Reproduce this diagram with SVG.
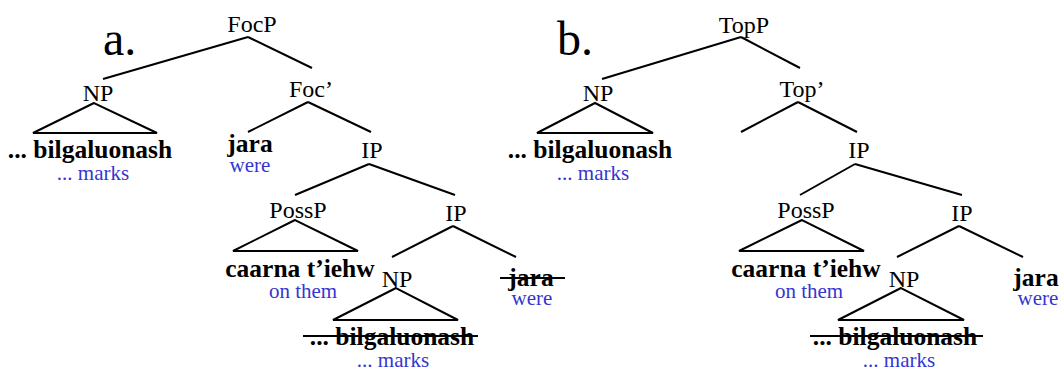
<svg xmlns="http://www.w3.org/2000/svg" width="1060" height="369" viewBox="0 0 1060 369">
<style>
text{font-family:"Liberation Serif","Times New Roman",serif;text-anchor:middle;fill:#000}
.lbl{font-size:48px;text-anchor:start}
.cat{font-size:24px}
.w{font-size:25.5px;font-weight:bold}
.g{font-size:21px;fill:#3535d0}
.e line,.e polygon{stroke:#000;stroke-width:2;fill:none}
.s{stroke:#000;stroke-width:2}
</style>
<rect width="1060" height="369" fill="#fff"/>
<g id="edges" class="e">
<line x1="248" y1="37" x2="103" y2="79"/><line x1="248" y1="37" x2="312" y2="68"/>
<polygon points="94,103 33,133 157,133"/>
<line x1="308" y1="102" x2="248" y2="132"/><line x1="308" y1="102" x2="371" y2="132"/>
<line x1="369" y1="164" x2="295" y2="195"/><line x1="369" y1="164" x2="455" y2="195"/>
<polygon points="295,220 233,251 358,251"/>
<line x1="453" y1="226" x2="392" y2="257"/><line x1="453" y1="226" x2="516" y2="257"/>
<polygon points="396,288 333,320 458,320"/>
<line x1="741" y1="37" x2="602" y2="79"/><line x1="741" y1="37" x2="800" y2="68"/>
<polygon points="595,103 537,133 653,133"/>
<line x1="798" y1="102" x2="741" y2="132"/><line x1="798" y1="102" x2="857" y2="132"/>
<line x1="855" y1="164" x2="800" y2="195"/><line x1="855" y1="164" x2="962" y2="195"/>
<polygon points="802,220 739,251 864,251"/>
<line x1="959" y1="226" x2="897" y2="257"/><line x1="959" y1="226" x2="1023" y2="257"/>
<polygon points="901,288 838,320 964,320"/>
</g>
<g id="tree-a">
<text class="lbl" x="103" y="55">a.</text>
<g id="a-focp"><text class="cat" x="252" y="32">FocP</text></g>
<g id="a-np1"><text class="cat" x="98" y="101">NP</text><text class="w" x="90" y="158">... bilgaluonash</text><text class="g" x="93" y="180">... marks</text></g>
<g id="a-focbar"><text class="cat" x="311" y="97">Foc’</text></g>
<g id="a-jara"><text class="w" x="250" y="152">jara</text><text class="g" x="250" y="172">were</text></g>
<g id="a-ip1"><text class="cat" x="372" y="158">IP</text></g>
<g id="a-possp"><text class="cat" x="298" y="218">PossP</text><text class="w" x="300" y="277">caarna t’iehw</text><text class="g" x="303" y="298">on them</text></g>
<g id="a-ip2"><text class="cat" x="456" y="221">IP</text></g>
<g id="a-np2"><text class="cat" x="397" y="287">NP</text><text class="w" x="392" y="345">... bilgaluonash</text><line class="s" x1="303" y1="336" x2="478" y2="336"/><text class="g" x="393" y="367">... marks</text></g>
<g id="a-jara2"><text class="w" x="531" y="286">jara</text><line class="s" x1="500" y1="278" x2="565" y2="278"/><text class="g" x="532" y="305">were</text></g>
</g>
<g id="tree-b">
<text class="lbl" x="557" y="55">b.</text>
<g id="b-topp"><text class="cat" x="744" y="33">TopP</text></g>
<g id="b-np1"><text class="cat" x="598" y="101">NP</text><text class="w" x="590" y="158">... bilgaluonash</text><text class="g" x="593" y="180">... marks</text></g>
<g id="b-topbar"><text class="cat" x="802" y="97">Top’</text></g>
<g id="b-ip1"><text class="cat" x="859" y="158">IP</text></g>
<g id="b-possp"><text class="cat" x="806" y="218">PossP</text><text class="w" x="806" y="277">caarna t’iehw</text><text class="g" x="809" y="298">on them</text></g>
<g id="b-ip2"><text class="cat" x="962" y="221">IP</text></g>
<g id="b-np2"><text class="cat" x="904" y="287">NP</text><text class="w" x="895" y="345">... bilgaluonash</text><line class="s" x1="810" y1="336" x2="983" y2="336"/><text class="g" x="899" y="367">... marks</text></g>
<g id="b-jara"><text class="w" x="1036" y="286">jara</text><text class="g" x="1038" y="305">were</text></g>
</g>
</svg>
